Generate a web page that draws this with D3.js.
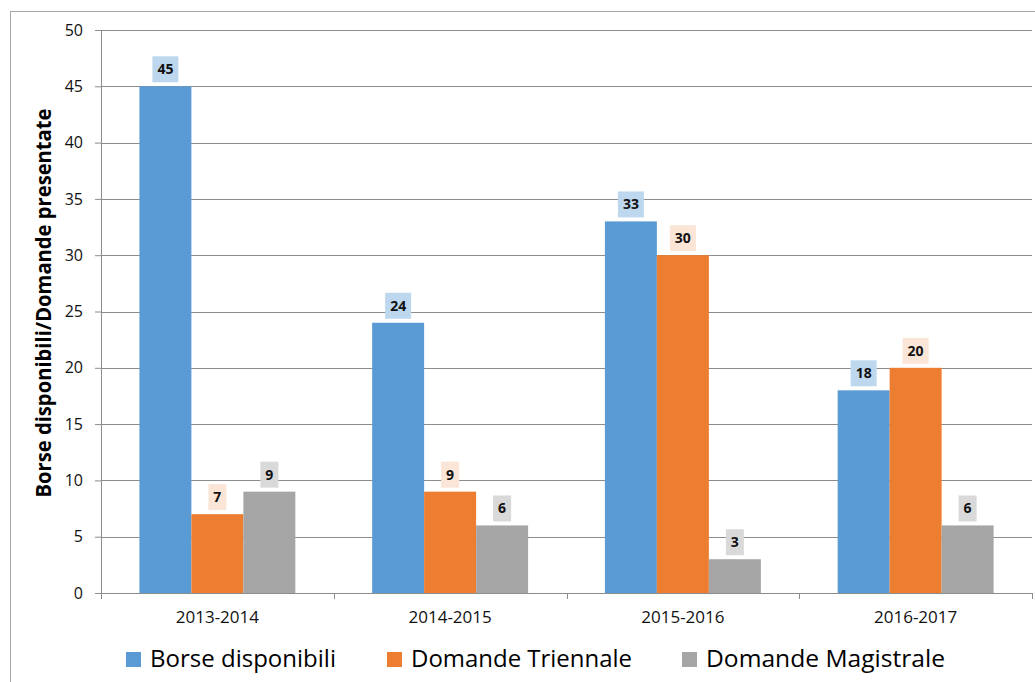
<!DOCTYPE html>
<html>
<head>
<meta charset="utf-8">
<script src="https://cdn.jsdelivr.net/npm/d3@7"></script>
<style>
  body { margin: 0; background: #fff; }
  svg { display: block; font-family: "Open Sans", sans-serif; }
</style>
</head>
<body>
<div id="chart"></div>
<script>
var years = ["2013-2014", "2014-2015", "2015-2016", "2016-2017"];
var series = ["Borse disponibili", "Domande Triennale", "Domande Magistrale"];
var borse = [45, 24, 33, 18];
var triennale = [7, 9, 30, 20];
var magistrale = [9, 6, 3, 6];
var yTicks = [0, 5, 10, 15, 20, 25, 30, 35, 40, 45, 50];

var colors = ["#5b9bd5", "#ed7d31", "#a5a5a5"];
var labelBg = ["#bdd7ee", "#fbe5d6", "#d9d9d9"];

var W = 1035, H = 682;
var margin = {left: 101, top: 30, right: 3, bottom: 89};
var pw = W - margin.left - margin.right, ph = H - margin.top - margin.bottom;

var values = [borse, triennale, magistrale];
var rows = years.map(function(y, i) {
  return {year: y, vals: series.map(function(s, j) { return {s: s, j: j, v: values[j][i]}; })};
});

var svg = d3.select("#chart").append("svg")
  .attr("width", W)
  .attr("height", H);

// cornice esterna
svg.append("rect")
  .attr("x", 10.5).attr("y", 11.5)
  .attr("width", W + 20).attr("height", H + 20)
  .attr("fill", "none")
  .attr("stroke", "#a6a6a6");

var g = svg.append("g").attr("transform", "translate(" + margin.left + "," + margin.top + ")");

var x0 = d3.scaleBand().domain(years).range([0, pw]);
var pad = x0.bandwidth() * 0.165;
var x1 = d3.scaleBand().domain(series).range([pad, x0.bandwidth() - pad]);
var y = d3.scaleLinear().domain([0, 50]).range([ph, 0]);

// griglia
g.selectAll(".grid")
  .data(yTicks.slice(1))
  .enter().append("line")
  .attr("x1", 0).attr("x2", pw)
  .attr("y1", function(d) { return Math.round(y(d)) + 0.5; })
  .attr("y2", function(d) { return Math.round(y(d)) + 0.5; })
  .attr("stroke", "#8c8c8c");

// asse y
var yAxis = g.append("g")
  .call(d3.axisLeft(y).tickValues(yTicks).tickSize(6).tickPadding(12));
yAxis.select(".domain").attr("stroke", "#8c8c8c");
yAxis.selectAll(".tick line").attr("stroke", "#8c8c8c");
yAxis.selectAll(".tick text")
  .attr("font-size", "16px")
  .attr("fill", "#111")
  .attr("font-family", "Open Sans");

// asse x
var xAxis = g.append("g")
  .attr("transform", "translate(0," + ph + ")")
  .call(d3.axisBottom(x0).tickSize(0).tickPadding(18));
xAxis.select(".domain").remove();
xAxis.selectAll(".tick text")
  .attr("font-size", "17px")
  .attr("fill", "#111")
  .attr("font-family", "Open Sans");

g.append("line")
  .attr("x1", 0).attr("x2", pw)
  .attr("y1", ph + 0.5).attr("y2", ph + 0.5)
  .attr("stroke", "#8c8c8c");

var bounds = years.map(function(d) { return x0(d); }).concat([pw]);
g.selectAll(".xtick")
  .data(bounds)
  .enter().append("line")
  .attr("x1", function(d) { return Math.round(d) + 0.5; })
  .attr("x2", function(d) { return Math.round(d) + 0.5; })
  .attr("y1", ph).attr("y2", ph + 6)
  .attr("stroke", "#8c8c8c");

// barre
var groups = g.selectAll(".group")
  .data(rows)
  .enter().append("g")
  .attr("transform", function(d) { return "translate(" + x0(d.year) + ",0)"; });

groups.selectAll("rect.bar")
  .data(function(d) { return d.vals; })
  .enter().append("rect")
  .attr("class", "bar")
  .attr("x", function(d) { return x1(d.s); })
  .attr("y", function(d) { return y(d.v); })
  .attr("width", x1.bandwidth())
  .attr("height", function(d) { return ph - y(d.v); })
  .attr("fill", function(d) { return colors[d.j]; });

// etichette dei valori
var lab = groups.selectAll("g.lab")
  .data(function(d) { return d.vals; })
  .enter().append("g")
  .attr("class", "lab");

lab.append("rect")
  .attr("x", function(d) {
    var w = String(d.v).length > 1 ? 26 : 18;
    return x1(d.s) + x1.bandwidth() / 2 - w / 2;
  })
  .attr("y", function(d) { return y(d.v) - 30; })
  .attr("width", function(d) { return String(d.v).length > 1 ? 26 : 18; })
  .attr("height", 26)
  .attr("fill", function(d) { return labelBg[d.j]; });

lab.append("text")
  .attr("x", function(d) { return x1(d.s) + x1.bandwidth() / 2; })
  .attr("y", function(d) { return y(d.v) - 12; })
  .attr("text-anchor", "middle")
  .attr("font-size", "14px")
  .attr("font-weight", "bold")
  .attr("fill", "#111")
  .text(function(d) { return d.v; });

// titolo asse y
svg.append("text")
  .attr("transform", "translate(51,303) rotate(-90)")
  .attr("text-anchor", "middle")
  .attr("font-size", "21px")
  .attr("font-weight", "bold")
  .attr("fill", "#000")
  .attr("textLength", 389)
  .attr("lengthAdjust", "spacingAndGlyphs")
  .text("Borse disponibili/Domande presentate");

// legenda
var legX = [126, 387, 682];
var legW = [186, 221, 239];
var leg = svg.selectAll(".leg")
  .data(series)
  .enter().append("g")
  .attr("transform", function(d, i) { return "translate(" + legX[i] + ",652)"; });

leg.append("rect")
  .attr("width", 15).attr("height", 15)
  .attr("fill", function(d, i) { return colors[i]; });

leg.append("text")
  .attr("x", 24)
  .attr("y", 15)
  .attr("font-size", "23px")
  .attr("fill", "#000")
  .attr("textLength", function(d, i) { return legW[i]; })
  .attr("lengthAdjust", "spacingAndGlyphs")
  .text(function(d) { return d; });
</script>
</body>
</html>
